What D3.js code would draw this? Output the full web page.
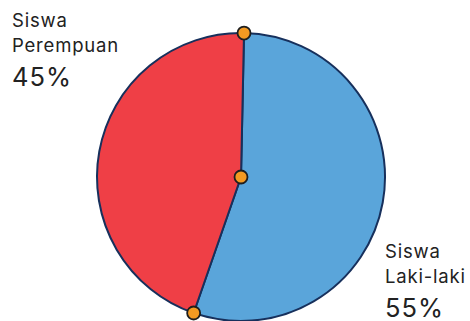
<!DOCTYPE html>
<html>
<head>
<meta charset="utf-8">
<script src="https://cdn.jsdelivr.net/npm/d3@7"></script>
<style>
  body { margin: 0; background: #fff; }
  text { font-family: Inter, Roboto, sans-serif; fill: #222; }
</style>
</head>
<body>
<svg width="470" height="321"></svg>
<script>
// Data
const categories = ["Siswa Laki-laki", "Siswa Perempuan"];
const values = [55, 45];
const colors = ["#5AA5DA", "#EF3F46"];
const labelLines = [["Siswa", "Laki-laki"], ["Siswa", "Perempuan"]];

var svg = d3.select("svg");
var cx = 241, cy = 177, r = 144;
var startOffset = 1.2 * Math.PI / 180; // slight clockwise offset of the first cut

var pie = d3.pie().sort(null)
    .startAngle(startOffset)
    .endAngle(startOffset + 2 * Math.PI);
var arcs = pie(values);
var arc = d3.arc().innerRadius(0).outerRadius(r);

var g = svg.append("g").attr("transform", "translate(" + cx + "," + cy + ")");

g.selectAll("path.slice")
    .data(arcs)
    .enter()
    .append("path")
        .attr("class", "slice")
        .attr("d", arc)
        .attr("fill", (d, i) => colors[i])
        .attr("stroke", "#17305C")
        .attr("stroke-width", 2)
        .attr("stroke-linejoin", "round");

// dots on the cut lines: centre + each slice boundary on the rim
var dots = [[0, 0]].concat(arcs.map(d => [Math.sin(d.startAngle) * r, -Math.cos(d.startAngle) * r]));
g.selectAll("circle.dot")
    .data(dots)
    .enter()
    .append("circle")
        .attr("class", "dot")
        .attr("cx", d => d[0])
        .attr("cy", d => d[1])
        .attr("r", 6.5)
        .attr("fill", "#F39A22")
        .attr("stroke", "#1E1E1E")
        .attr("stroke-width", 1.8);

// labels
function addLabel(x, y, lines, pct) {
    var t = svg.append("g").attr("transform", "translate(" + x + "," + y + ")");
    lines.forEach((l, i) => {
        t.append("text").attr("x", 0).attr("y", i * 24.5)
            .attr("font-size", 18.5)
            .attr("letter-spacing", 0.8)
            .text(l);
    });
    t.append("text").attr("x", 0).attr("y", 58.5)
        .attr("font-size", 25.5)
        .attr("letter-spacing", 1)
        .text(pct + "%");
}
addLabel(12, 27, labelLines[1], values[1]);
addLabel(385, 258, labelLines[0], values[0]);
</script>
</body>
</html>
